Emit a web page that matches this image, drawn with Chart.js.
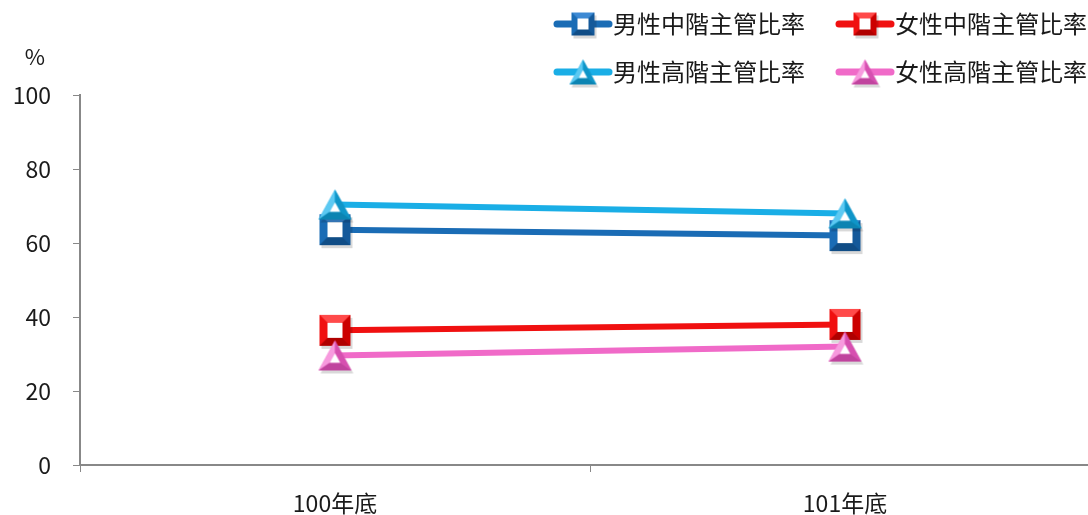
<!DOCTYPE html>
<html>
<head>
<meta charset="utf-8">
<script src="https://cdn.jsdelivr.net/npm/chart.js@4/dist/chart.umd.min.js"></script>
<style>
	html, body { margin: 0; padding: 0; background: #fff; overflow: hidden; }
	#wrap { width: 1100px; height: 515px; }
</style>
</head>
<body>
<div id="wrap"><canvas id="chart" width="1100" height="515"></canvas></div>
<script>
const categories = ['100年底', '101年底'];
const seriesNames = ['男性中階主管比率', '女性中階主管比率', '男性高階主管比率', '女性高階主管比率'];
const maleMid = [63.6, 62.0];
const femaleMid = [36.4, 38.0];
const maleHigh = [70.4, 68.0];
const femaleHigh = [29.6, 32.0];
const yTicks = [0, 20, 40, 60, 80, 100];

const FONT = '"Noto Sans CJK TC", "Noto Sans", sans-serif';
const TEXT = '#1a1a1a';
const AXIS = '#888888';

const COLORS = {
	maleMid:   { base: '#1a6cb5', light: '#3d8ad4', dark: '#14599a', darker: '#104d86' },
	femaleMid: { base: '#f01010', light: '#ff4a4a', dark: '#cc0000', darker: '#b00000' },
	maleHigh:  { base: '#1aaee6', light: '#5cc9f2', dark: '#0f95c8', darker: '#0c84b2' },
	femaleHigh:{ base: '#f06ac8', light: '#f79ade', dark: '#d650b0', darker: '#c0449e' },
};

function poly(ctx, pts, fill) {
	ctx.beginPath();
	ctx.moveTo(pts[0][0], pts[0][1]);
	for (let i = 1; i < pts.length; i++) ctx.lineTo(pts[i][0], pts[i][1]);
	ctx.closePath();
	ctx.fillStyle = fill;
	ctx.fill();
}

function makeSquare(c, s) {
	const m = 4;
	const cv = document.createElement('canvas');
	cv.width = cv.height = s + 2 * m;
	const ctx = cv.getContext('2d');
	const b = Math.round(s * 0.25);
	ctx.fillStyle = 'rgba(0,0,0,0.15)';
	ctx.fillRect(m + 2, m + 3, s, s);
	ctx.translate(m, m);
	ctx.fillStyle = c.base;
	ctx.fillRect(0, 0, s, s);
	poly(ctx, [[0, 0], [s, 0], [s - b, b], [b, b]], c.light);
	poly(ctx, [[0, 0], [b, b], [b, s - b], [0, s]], c.base);
	poly(ctx, [[s, 0], [s, s], [s - b, s - b], [s - b, b]], c.dark);
	poly(ctx, [[0, s], [b, s - b], [s - b, s - b], [s, s]], c.darker);
	ctx.fillStyle = '#fff';
	ctx.fillRect(b, b, s - 2 * b, s - 2 * b);
	return cv;
}

function makeTriangle(c, w, h) {
	const m = 4;
	const cv = document.createElement('canvas');
	cv.width = w + 2 * m;
	cv.height = h + 2 * m;
	const ctx = cv.getContext('2d');
	const A = [w / 2, 0], B = [0, h], C = [w, h];
	const cx = w / 2, cy = h * 0.62, k = 0.32;
	const ins = p => [cx + (p[0] - cx) * k, cy + (p[1] - cy) * k];
	const a = ins(A), b = ins(B), cc = ins(C);
	ctx.save();
	ctx.translate(m + 2, m + 3);
	poly(ctx, [A, B, C], 'rgba(0,0,0,0.15)');
	ctx.restore();
	ctx.translate(m, m);
	poly(ctx, [A, B, C], c.base);
	poly(ctx, [A, B, b, a], c.light);
	poly(ctx, [A, C, cc, a], c.dark);
	poly(ctx, [B, C, cc, b], c.darker);
	poly(ctx, [a, b, cc], '#fff');
	return cv;
}

const markers = {
	maleMid: makeSquare(COLORS.maleMid, 31),
	femaleMid: makeSquare(COLORS.femaleMid, 31),
	maleHigh: makeTriangle(COLORS.maleHigh, 33, 30),
	femaleHigh: makeTriangle(COLORS.femaleHigh, 33, 30),
};
const legendMarkers = {
	maleMid: makeSquare(COLORS.maleMid, 23),
	femaleMid: makeSquare(COLORS.femaleMid, 23),
	maleHigh: makeTriangle(COLORS.maleHigh, 27, 25),
	femaleHigh: makeTriangle(COLORS.femaleHigh, 27, 25),
};

const getDataset = (key, name, values, order) => ({
	label: name,
	data: values,
	borderColor: COLORS[key].base,
	borderWidth: 6,
	pointStyle: markers[key],
	pointRadius: 16,
	tension: 0,
	order: order,
});

const data = {
	labels: categories,
	datasets: [
		getDataset('maleMid', seriesNames[0], maleMid, 3),
		getDataset('femaleMid', seriesNames[1], femaleMid, 2),
		getDataset('maleHigh', seriesNames[2], maleHigh, 1),
		getDataset('femaleHigh', seriesNames[3], femaleHigh, 0),
	]
};

const legendPlugin = {
	id: 'customLegend',
	afterDraw(chart) {
		const ctx = chart.ctx;
		const keys = ['maleMid', 'femaleMid', 'maleHigh', 'femaleHigh'];
		const spots = [[554, 24], [836, 24], [554, 72], [836, 72]];
		ctx.save();
		keys.forEach((k, i) => {
			const [x, y] = spots[i];
			ctx.strokeStyle = COLORS[k].base;
			ctx.lineWidth = 7;
			ctx.lineCap = 'round';
			ctx.beginPath();
			ctx.moveTo(x + 3, y);
			ctx.lineTo(x + 55, y);
			ctx.stroke();
			const im = legendMarkers[k];
			ctx.drawImage(im, x + 29 - im.width / 2, y - im.height / 2);
			ctx.fillStyle = TEXT;
			ctx.font = '24px ' + FONT;
			ctx.textBaseline = 'middle';
			ctx.textAlign = 'left';
			ctx.fillText(seriesNames[i], x + 59, y);
		});
		ctx.font = '22px ' + FONT;
		ctx.textAlign = 'center';
		ctx.fillText('%', 35, 57);
		ctx.restore();
	}
};

const config = {
	type: 'line',
	data: data,
	plugins: [legendPlugin],
	options: {
		responsive: false,
		animation: false,
		layout: { autoPadding: false, padding: { top: 95, left: 0, right: 0, bottom: 0 } },
		plugins: {
			legend: { display: false },
			tooltip: { enabled: false },
		},
		scales: {
			x: {
				offset: true,
				grid: { drawOnChartArea: false, tickLength: 7, color: AXIS, offset: true },
				border: { color: AXIS, width: 2 },
				ticks: { font: { family: FONT, size: 23 }, color: TEXT, padding: 17 },
				afterFit(s) { s.height = 50; },
			},
			y: {
				min: 0,
				max: 100,
				afterBuildTicks(s) { s.ticks = yTicks.map(v => ({ value: v })); },
				grid: { drawOnChartArea: false, tickLength: 7, color: AXIS },
				border: { color: AXIS, width: 2 },
				ticks: { font: { family: FONT, size: 23 }, color: TEXT, padding: 22 },
				afterFit(s) { s.width = 80; },
			}
		}
	}
};

new Chart(document.getElementById('chart'), config);
</script>
</body>
</html>
